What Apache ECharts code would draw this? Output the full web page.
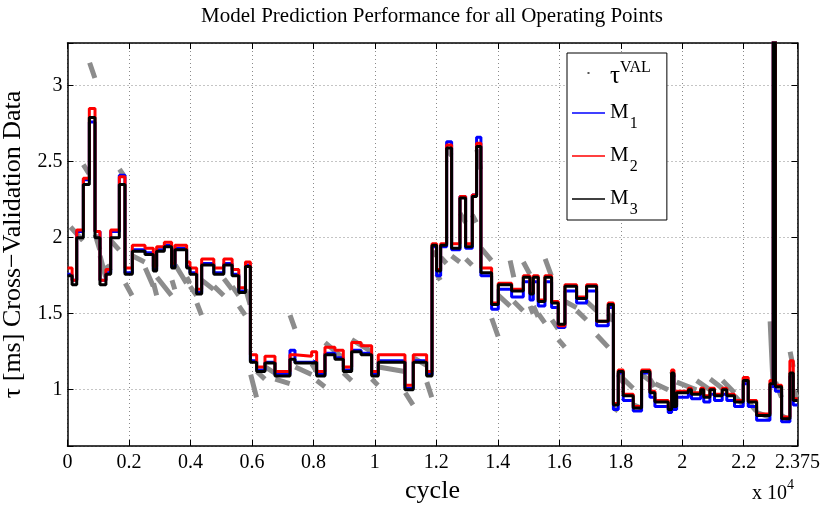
<!DOCTYPE html>
<html><head><meta charset="utf-8">
<script src="https://cdn.jsdelivr.net/npm/echarts@6/dist/echarts.min.js"></script>
<style>html,body{margin:0;padding:0;background:#fff}#c{width:827px;height:505px}</style>
</head><body><div id="c"></div>
<script>
const FONT = '"Liberation Serif", "Times New Roman", serif';

// Segment start cycles (piecewise-constant operating points)
const edges = [
  0,150,300,515,710,895,1057,1250,1405,1686,1870,2109,2521,2792,2900,3150,3388,3497,3876,3985,4202,4365,4760,5085,5356,5573,5790,
  5950,6154,6425,6750,7238,7401,7943,8106,8377,8700,8973,9245,9550,9896,10111,10979,11249,11684,
  11860,12009,12140,12335,12497,12768,12952,13169,13310,13450,13798,14015,14449,14829,15045,15154,15316,15533,15750,15966,16184,16563,16888,17214,17593,
  17760,17918,18080,18406,18677,18949,19111,19545,19654,19729,19817,20200,20300,20600,20700,20900,21050,21300,21450,21700,21984,22147,22420,22853,22960,23030,23233,23503,23612
];
const endCycle = 23750;

const m1 = [
  1.76,1.72,2.04,2.38,2.76,2.04,1.72,1.77,2.04,2.41,1.77,1.92,1.90,1.79,1.92,1.95,1.81,1.93,1.81,1.77,1.64,1.83,1.77,1.83,1.76,1.65,1.82,
  1.19,1.13,1.18,1.10,1.26,1.18,1.19,1.10,1.24,1.21,1.13,1.26,1.24,1.10,1.19,1.01,1.19,1.10,
  1.94,1.75,1.94,2.63,1.92,2.27,1.93,2.28,2.66,1.75,1.53,1.66,1.61,1.71,1.59,1.71,1.55,1.71,1.54,1.41,1.65,1.57,1.65,1.42,1.54,
  0.87,1.11,0.93,0.86,1.11,0.95,0.89,0.85,1.10,0.87,0.95,0.97,0.94,0.97,0.92,0.97,0.93,0.97,0.93,0.89,1.04,0.89,0.80,1.02,4.00,0.99,0.79,1.09,0.90
];
const m2 = [
  1.80,1.72,2.05,2.39,2.85,2.04,1.72,1.79,2.05,2.40,1.80,1.95,1.93,1.81,1.94,1.97,1.83,1.95,1.84,1.80,1.66,1.86,1.80,1.86,1.79,1.67,1.84,
  1.23,1.15,1.22,1.12,1.23,1.22,1.25,1.12,1.28,1.26,1.15,1.31,1.29,1.12,1.23,1.03,1.23,1.12,
  1.96,1.79,1.96,2.61,1.96,2.27,1.96,2.28,2.62,1.80,1.57,1.70,1.66,1.75,1.64,1.75,1.59,1.75,1.58,1.42,1.69,1.61,1.69,1.45,1.57,
  0.91,1.13,0.97,0.89,1.13,0.99,0.93,0.88,1.13,0.90,0.99,1.01,0.98,1.01,0.96,1.01,0.97,1.01,0.97,0.93,1.08,0.93,0.84,1.06,4.00,1.03,0.82,1.19,0.94
];
const m3 = [
  1.75,1.69,2.00,2.35,2.79,2.00,1.69,1.76,2.00,2.35,1.76,1.91,1.89,1.78,1.91,1.94,1.80,1.92,1.80,1.76,1.63,1.82,1.76,1.82,1.75,1.64,1.81,
  1.18,1.12,1.175,1.09,1.20,1.175,1.18,1.09,1.23,1.20,1.12,1.25,1.23,1.09,1.18,1.00,1.18,1.09,
  1.95,1.78,1.95,2.59,1.93,2.26,1.94,2.27,2.60,1.77,1.56,1.69,1.65,1.74,1.63,1.74,1.58,1.74,1.57,1.43,1.68,1.60,1.68,1.45,1.56,
  0.90,1.12,0.96,0.88,1.12,0.98,0.92,0.87,1.11,0.89,0.98,1.00,0.97,1.00,0.95,1.00,0.96,1.00,0.96,0.92,1.06,0.92,0.83,1.04,4.00,1.02,0.81,1.11,0.93
];

// Cross-validation measurements (tau^VAL), read as streaks: start/end cycle and start/end value
const tauX0 = [100,515,720,900,1060,1260,1410,1690,1880,2120,2530,2800,2910,3400,3510,3880,3990,4210,4370,4770,5090,5360,5580,5800,
  5960,6160,6430,6760,7240,7410,7950,8110,8380,8980,9250,9900,10120,10990,11260,11690,
  11870,12010,12150,12340,12500,12770,12960,13170,13320,13460,13800,14020,14400,14520,14830,15050,15160,15320,15540,15760,15970,16190,16570,16890,17220,17600,
  17770,17920,18090,18410,18680,18950,19120,19550,19660,19730,19820,20470,20910,21310,21710,21990,22150,22430,22860,23040,23240,23510,23620];
const tauX1 = [500,700,890,1050,1240,1400,1680,1860,2100,2510,2790,2900,3380,3490,3870,3980,4200,4360,4750,5080,5350,5570,5780,5940,
  6150,6420,6740,7230,7400,7940,8100,8370,8960,9240,9890,10100,10970,11240,11680,11850,
  12000,12130,12330,12490,12760,12950,13160,13300,13440,13790,14010,14400,14520,14820,15040,15150,15310,15530,15740,15960,16180,16560,16880,17210,17590,17750,
  17910,18070,18400,18670,18940,19100,19540,19650,19720,19810,20460,20900,21300,21700,21980,22140,22410,22850,22950,23230,23500,23610,23740];
const tauY0 = [2.07,2.48,3.15,2.02,1.88,1.82,1.98,2.45,1.70,1.88,1.80,1.70,1.74,1.72,1.82,1.74,1.68,1.57,1.72,1.68,1.73,1.68,1.55,1.66,
  1.10,1.12,1.15,1.07,1.49,1.15,1.17,1.06,1.31,1.11,1.33,1.07,1.15,0.98,1.21,1.05,
  1.91,1.76,1.87,2.58,1.88,2.16,1.86,2.15,2.58,1.93,1.47,1.62,1.85,1.58,1.84,1.55,1.55,1.50,1.86,1.46,1.33,1.58,1.52,1.58,1.36,1.50,
  0.88,1.10,1.07,0.90,1.10,1.07,1.04,0.89,1.12,0.93,1.05,1.06,1.07,1.06,0.96,1.08,0.92,0.85,1.45,1.05,0.83,1.25,1.00];
const tauY1 = [1.98,2.42,3.05,1.92,1.74,1.78,1.92,2.40,1.62,1.84,1.68,1.62,1.62,1.66,1.70,1.70,1.62,1.49,1.66,1.62,1.66,1.62,1.49,1.56,
  0.95,1.07,1.11,1.04,1.40,1.10,1.12,1.02,1.21,1.06,1.25,1.03,1.12,0.90,1.16,0.95,
  1.88,1.72,1.83,2.54,1.84,2.10,1.82,2.10,2.45,1.85,1.35,1.55,1.74,1.52,1.76,1.50,1.48,1.44,1.75,1.40,1.28,1.54,1.46,1.52,1.28,1.45,
  0.86,1.05,1.01,0.88,1.06,1.02,1.00,0.87,1.08,0.91,1.00,1.00,1.01,0.98,0.90,1.04,0.86,0.82,1.05,0.95,0.80,1.15,0.95];

const yTickValues = [1, 1.5, 2, 2.5, 3];

function stepData(vals) {
  const d = edges.map((e, i) => [e, vals[i]]);
  d.push([endCycle, vals[vals.length - 1]]);
  return d;
}
const tauData = [];
for (let i = 0; i < tauX0.length; i++) {
  tauData.push([tauX0[i], tauY0[i]], [tauX1[i], tauY1[i]], [tauX1[i], '-']);
}

const names = { tau: '{t|τ}{sup|VAL}', M1: '{m|M}{sub|1}', M2: '{m|M}{sub|2}', M3: '{m|M}{sub|3}' };
const lineIcon = 'path://M0,0M33,12M0,5.25h33v1.5h-33z';

const chart = echarts.init(document.getElementById('c'), null, { renderer: 'canvas' });
const axisLine = { show: true, onZero: false, lineStyle: { color: '#000', width: 1.5 } };
const tickStyle = { show: true, inside: true, length: 6, lineStyle: { color: '#000', width: 1 } };
const gridLine = { show: true, lineStyle: { type: [1, 3], color: '#8a8a8a', width: 1 } };

chart.setOption({
  animation: false,
  backgroundColor: '#fff',
  title: {
    text: 'Model Prediction Performance for all Operating Points',
    left: 432, top: 6, textAlign: 'center', padding: 0,
    textStyle: { fontFamily: FONT, fontSize: 21, fontWeight: 'normal', color: '#000' }
  },
  grid: { left: 67.5, right: 29.5, top: 43, bottom: 59, containLabel: false, outerBoundsMode: 'none' },
  legend: {
    orient: 'vertical', left: 567, top: 53,
    padding: [7, 16, 2, 5], itemGap: 13, itemWidth: 33, itemHeight: 12,
    borderColor: '#000', borderWidth: 1, backgroundColor: '#fff',
    data: [
      { name: 'tau', icon: 'path://M0,0M33,12M15.5,5.5h2v2h-2z', itemStyle: { color: '#555' } },
      { name: 'M1', icon: lineIcon, itemStyle: { color: '#0000ff' } },
      { name: 'M2', icon: lineIcon, itemStyle: { color: '#ff0000' } },
      { name: 'M3', icon: lineIcon, itemStyle: { color: '#000000' } }
    ],
    formatter: n => names[n],
    textStyle: {
      fontFamily: FONT, color: '#000',
      rich: {
        t: { fontFamily: FONT, fontSize: 25, lineHeight: 25, padding: [4, 0, 0, 0], verticalAlign: 'top', color: '#000' },
        sup: { fontFamily: FONT, fontSize: 16, lineHeight: 16, verticalAlign: 'top', color: '#000' },
        m: { fontFamily: FONT, fontSize: 21, lineHeight: 22, verticalAlign: 'top', color: '#000' },
        sub: { fontFamily: FONT, fontSize: 16, lineHeight: 16, padding: [14, 0, 0, 1], verticalAlign: 'top', color: '#000' }
      }
    }
  },
  xAxis: [
    {
      type: 'value', min: 0, max: endCycle, interval: 2000, position: 'bottom',
      axisLine, axisTick: tickStyle, splitLine: gridLine,
      axisLabel: { fontFamily: FONT, fontSize: 20, color: '#000', margin: 7,
        formatter: v => String(Math.round(v) / 10000) },
      name: 'cycle', nameLocation: 'middle', nameGap: 21,
      nameTextStyle: { fontFamily: FONT, fontSize: 26, color: '#000', verticalAlign: 'top' }
    },
    {
      type: 'value', min: 0, max: endCycle, interval: 2000, position: 'top',
      axisLine, axisTick: tickStyle, splitLine: { show: false }, axisLabel: { show: false }
    }
  ],
  yAxis: [
    {
      type: 'value', min: 0.63, max: 3.28, minInterval: 0.5, maxInterval: 0.5, position: 'left',
      axisLine, axisTick: tickStyle, splitLine: gridLine,
      axisLabel: { fontFamily: FONT, fontSize: 20, color: '#000', margin: 5,
        formatter: v => (yTickValues.some(t => Math.abs(t - v) < 1e-6) ? String(Math.round(v * 10) / 10) : '') },
      name: 'τ [ms] Cross−Validation Data', nameLocation: 'middle', nameGap: 31,
      nameTextStyle: { fontFamily: FONT, fontSize: 26, color: '#000' }
    },
    {
      type: 'value', min: 0.63, max: 3.28, minInterval: 0.5, maxInterval: 0.5, position: 'right',
      axisLine, axisTick: tickStyle, splitLine: { show: false }, axisLabel: { show: false }
    }
  ],
  graphic: [{
    type: 'text', left: 752, top: 478, silent: true,
    style: {
      text: '{a|x 10}{b|4}',
      rich: {
        a: { fontFamily: FONT, fontSize: 20, lineHeight: 22, padding: [6, 0, 0, 0], verticalAlign: 'top', fill: '#000', color: '#000' },
        b: { fontFamily: FONT, fontSize: 14, lineHeight: 14, verticalAlign: 'top', fill: '#000', color: '#000' }
      }
    }
  }],
  series: [
    { name: 'tau', type: 'line', data: tauData, symbol: 'none', connectNulls: false,
      lineStyle: { color: '#8c8c8c', width: 5, cap: 'butt' }, itemStyle: { color: '#8c8c8c' }, z: 1 },
    { name: 'M1', type: 'line', step: 'end', data: stepData(m1), symbol: 'none',
      lineStyle: { color: '#0000ff', width: 3 }, itemStyle: { color: '#0000ff' }, z: 2 },
    { name: 'M2', type: 'line', step: 'end', data: stepData(m2), symbol: 'none',
      lineStyle: { color: '#ff0000', width: 3 }, itemStyle: { color: '#ff0000' }, z: 3 },
    { name: 'M3', type: 'line', step: 'end', data: stepData(m3), symbol: 'none',
      lineStyle: { color: '#000000', width: 3 }, itemStyle: { color: '#000000' }, z: 4 }
  ]
});
</script>
</body></html>
